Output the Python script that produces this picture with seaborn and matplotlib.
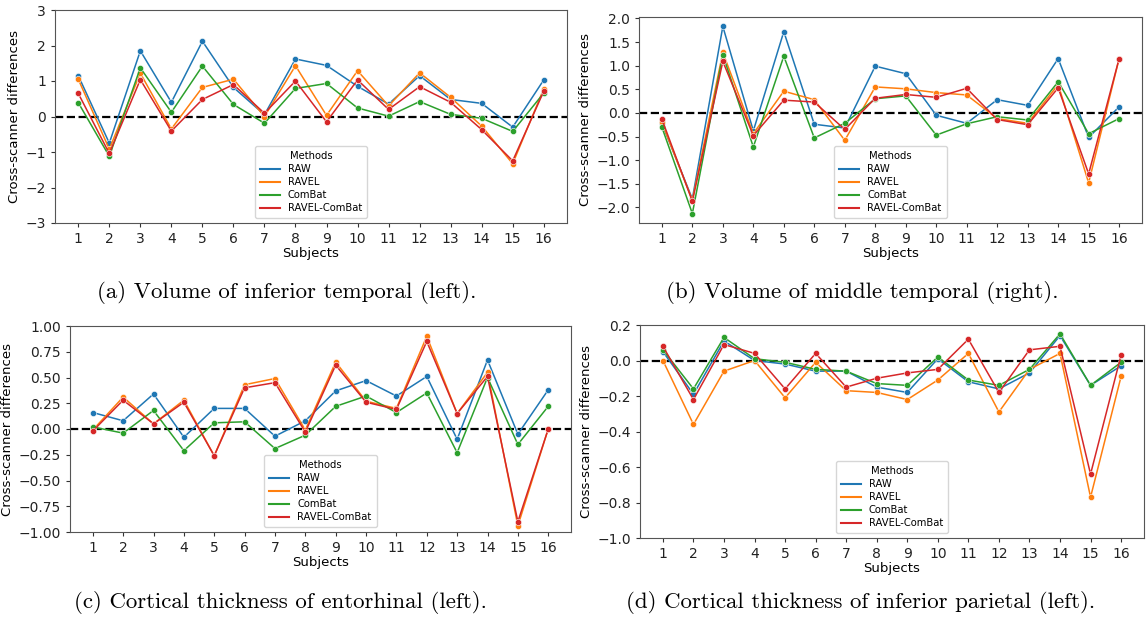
import numpy as np
import pandas as pd
import matplotlib
matplotlib.use("Agg")
import matplotlib.pyplot as plt
from matplotlib.lines import Line2D
import seaborn as sns

subjects = list(range(1, 17))
methods = ["RAW", "RAVEL", "ComBat", "RAVEL-ComBat"]

# (a) Volume of inferior temporal (left)
a_raw = [1.15, -0.75, 1.85, 0.40, 2.12, 0.82, 0.05, 1.62, 1.44, 0.85, 0.35, 1.15, 0.48, 0.37, -0.30, 1.03]
a_ravel = [1.05, -0.92, 1.22, -0.35, 0.82, 1.05, 0.00, 1.43, 0.03, 1.29, 0.30, 1.23, 0.54, -0.27, -1.33, 0.78]
a_combat = [0.39, -1.12, 1.37, 0.12, 1.42, 0.34, -0.19, 0.79, 0.93, 0.24, 0.01, 0.42, 0.06, -0.05, -0.42, 0.66]
a_rc = [0.65, -1.04, 1.04, -0.41, 0.48, 0.90, 0.09, 1.00, -0.15, 1.03, 0.20, 0.84, 0.40, -0.37, -1.25, 0.71]

# (b) Volume of middle temporal (right)
b_raw = [-0.22, -1.82, 1.83, -0.38, 1.72, -0.24, -0.32, 0.99, 0.83, -0.05, -0.22, 0.28, 0.16, 1.15, -0.52, 0.13]
b_ravel = [-0.20, -1.85, 1.28, -0.44, 0.46, 0.28, -0.58, 0.55, 0.51, 0.43, 0.38, -0.12, -0.22, 0.60, -1.48, 1.15]
b_combat = [-0.30, -2.13, 1.23, -0.72, 1.20, -0.53, -0.22, 0.30, 0.36, -0.47, -0.23, -0.08, -0.15, 0.66, -0.44, -0.12]
b_rc = [-0.13, -1.87, 1.09, -0.48, 0.27, 0.23, -0.35, 0.31, 0.39, 0.33, 0.52, -0.14, -0.25, 0.53, -1.29, 1.15]

# (c) Cortical thickness of entorhinal (left)
c_raw = [0.16, 0.08, 0.34, -0.08, 0.20, 0.20, -0.07, 0.08, 0.37, 0.47, 0.32, 0.51, -0.10, 0.67, -0.05, 0.38]
c_ravel = [-0.01, 0.31, 0.05, 0.28, -0.26, 0.43, 0.49, -0.01, 0.65, 0.27, 0.20, 0.90, 0.15, 0.55, -0.94, 0.00]
c_combat = [0.02, -0.04, 0.18, -0.21, 0.06, 0.07, -0.19, -0.06, 0.22, 0.32, 0.16, 0.35, -0.23, 0.50, -0.15, 0.22]
c_rc = [-0.02, 0.28, 0.05, 0.26, -0.26, 0.40, 0.45, -0.03, 0.62, 0.26, 0.19, 0.85, 0.15, 0.51, -0.90, 0.00]

# (d) Cortical thickness of inferior parietal (left)
d_raw = [0.05, -0.19, 0.11, 0.00, -0.02, -0.06, -0.06, -0.15, -0.18, 0.01, -0.12, -0.16, -0.07, 0.14, -0.14, -0.03]
d_ravel = [0.00, -0.36, -0.06, 0.00, -0.21, -0.01, -0.17, -0.18, -0.22, -0.11, 0.04, -0.29, -0.05, 0.04, -0.77, -0.09]
d_combat = [0.06, -0.16, 0.13, 0.01, -0.01, -0.05, -0.06, -0.13, -0.14, 0.02, -0.11, -0.14, -0.05, 0.15, -0.14, -0.01]
d_rc = [0.08, -0.22, 0.09, 0.04, -0.16, 0.04, -0.15, -0.10, -0.07, -0.05, 0.12, -0.18, 0.06, 0.08, -0.64, 0.03]

captions = ["(a) Volume of inferior temporal (left).",
            "(b) Volume of middle temporal (right).",
            "(c) Cortical thickness of entorhinal (left).",
            "(d) Cortical thickness of inferior parietal (left)."]

y_ticks_a = [-3, -2, -1, 0, 1, 2, 3]
y_ticks_b = [-2.0, -1.5, -1.0, -0.5, 0.0, 0.5, 1.0, 1.5, 2.0]
y_ticks_c = [-1.00, -0.75, -0.50, -0.25, 0.00, 0.25, 0.50, 0.75, 1.00]
y_ticks_d = [-1.0, -0.8, -0.6, -0.4, -0.2, 0.0, 0.2]

panels = [
    (a_raw, a_ravel, a_combat, a_rc),
    (b_raw, b_ravel, b_combat, b_rc),
    (c_raw, c_ravel, c_combat, c_rc),
    (d_raw, d_ravel, d_combat, d_rc),
]
ylims = [(-3, 3), (-2.33, 2.03), (-1, 1), (-1, 0.2)]
yticks = [y_ticks_a, y_ticks_b, y_ticks_c, y_ticks_d]
yfmt = ["{:.0f}", "{:.1f}", "{:.2f}", "{:.1f}"]

W, H = 1146, 619
# axes boxes in pixels: left, right, top, bottom
boxes = [(55, 567, 10, 223), (639, 1142, 17, 223), (70, 571, 326, 532), (640, 1144, 325, 538)]
cap_pos = [(287, 292), (862, 292), (280, 602), (861, 602)]

plt.rcParams.update({
    "axes.edgecolor": "#555555",
    "xtick.color": "#333333",
    "ytick.color": "#333333",
    "xtick.labelcolor": "#222222",
    "ytick.labelcolor": "#222222",
    "font.size": 9,
    "xtick.labelsize": 10,
    "ytick.labelsize": 10,
    "axes.labelsize": 9.5,
    "xtick.major.size": 3,
    "ytick.major.size": 3,
    "axes.unicode_minus": True,
})

fig = plt.figure(figsize=(W / 100, H / 100), dpi=100)
palette = sns.color_palette("tab10", 4)

for i, series in enumerate(panels):
    l, r, t, b = boxes[i]
    ax = fig.add_axes([l / W, 1 - b / H, (r - l) / W, (b - t) / H])
    frames = []
    for m, vals in zip(methods, series):
        frames.append(pd.DataFrame({"Subjects": subjects, "diff": vals, "Methods": m}))
    df = pd.concat(frames, ignore_index=True)
    sns.lineplot(data=df, x="Subjects", y="diff", hue="Methods", hue_order=methods,
                 palette=palette, marker="o", markersize=4.5, markeredgecolor="white",
                 markeredgewidth=0.4, linewidth=1.1, ax=ax, legend=False)
    ax.axhline(0, color="black", linestyle="--", linewidth=1.6, zorder=0.5)
    ax.set_xticks(subjects)
    ax.set_ylim(*ylims[i])
    ax.set_yticks(yticks[i])
    ax.set_yticklabels([yfmt[i].format(v).replace("-", "\u2212") for v in yticks[i]])
    ax.set_xlabel("Subjects", labelpad=1)
    ax.set_ylabel("Cross-scanner differences", labelpad=3)
    handles = [Line2D([], [], color=c, linewidth=1.5) for c in palette]
    ax.legend(handles, methods, title="Methods", loc="lower center", fontsize=7.2,
              title_fontsize=7.2, labelspacing=0.3, handlelength=2.0, borderpad=0.5,
              framealpha=0.8)
    cx, cy = cap_pos[i]
    fig.text(cx / W, 1 - cy / H, captions[i], ha="center", va="center",
             fontsize=16.5, family="cmr10")

fig.savefig("out.png", dpi=100)
